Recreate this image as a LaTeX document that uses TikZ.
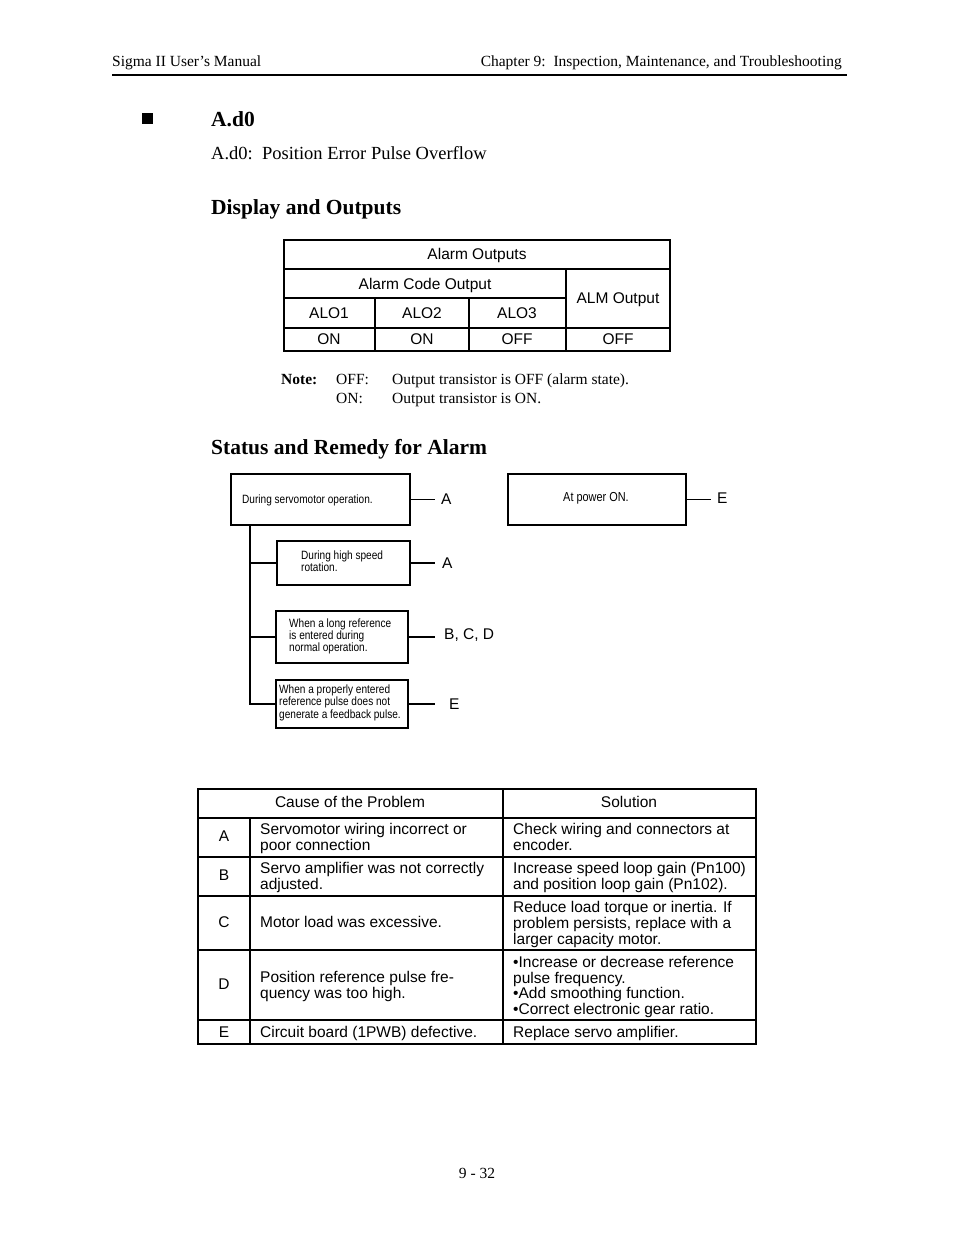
\documentclass[tikz,border=0pt]{standalone}
\usepackage{fontspec}
\setmainfont{Liberation Serif}
\setsansfont{Liberation Sans}
\newfontfamily\narrowsf[FakeStretch=0.84]{Liberation Sans}
\begin{document}
\begin{tikzpicture}[x=1pt,y=-1pt,
  serif/.style={font=\fontsize{15.5}{18}\selectfont, inner sep=0pt, anchor=base west},
  tc/.style={font=\sffamily\fontsize{15.5}{16}\selectfont, inner sep=0pt, anchor=base},
  tlft/.style={font=\sffamily\fontsize{15.5}{16}\selectfont, inner sep=0pt, anchor=base west, align=left},
  nt/.style={font=\narrowsf\fontsize{12}{12}\selectfont, inner sep=0pt, anchor=base west, align=left},
  lbl/.style={font=\sffamily\fontsize{15.5}{16}\selectfont, inner ysep=0pt, anchor=base west},
  sbox/.style={draw, line width=1.8pt, inner sep=0pt, anchor=north west},
  conn/.style={line width=1.5pt},
  trunk/.style={line width=2pt},
  tline/.style={line width=1.4pt}
]
\useasboundingbox (0,0) rectangle (954,1235);
\fill[white] (0,0) rectangle (954,1235);

% header
\node[serif] (h1) at (112,66) {Sigma II User’s Manual};
\node[serif, anchor=base east] (h2) at (842,66) {Chapter 9:\ \ Inspection, Maintenance, and Troubleshooting};
\draw[line width=2pt] (112,75) -- (847,75);

% section heading
\fill (142,113) rectangle (153,124);
\node[serif, font=\bfseries\fontsize{21.5}{24}\selectfont] (sec) at (211,126) {A.d0};
\node[serif, font=\fontsize{18.5}{22}\selectfont] (sub) at (211,159) {A.d0:\ \ Position Error Pulse Overflow};
\node[serif, font=\bfseries\fontsize{21.5}{24}\selectfont] (disp) at (211,214) {Display and Outputs};

% table 1
\draw[tline] (284,240) rectangle (670,351);
\draw[tline] (284,269) -- (670,269);
\draw[tline] (284,298) -- (566,298);
\draw[tline] (284,328) -- (670,328);
\draw[tline] (566,269) -- (566,351);
\draw[tline] (375,298) -- (375,351);
\draw[tline] (469,298) -- (469,351);
\node[tc] (ao) at (477,259.5) {Alarm Outputs};
\node[tc] (aco) at (425,289.5) {Alarm Code Output};
\node[tc] (almo) at (618,303.5) {ALM Output};
\node[tc] (alo1) at (329,318.5) {ALO1};
\node[tc] (alo2) at (422,318.5) {ALO2};
\node[tc] (alo3) at (517,318.5) {ALO3};
\node[tc] (v1) at (329,344.5) {ON};
\node[tc] (v2) at (422,344.5) {ON};
\node[tc] (v3) at (517,344.5) {OFF};
\node[tc] (v4) at (618,344.5) {OFF};

% note
\node[serif, font=\bfseries\fontsize{15.5}{18}\selectfont] (note) at (281,384) {Note:};
\node[serif] (n1a) at (336,384) {OFF:};
\node[serif] (n1b) at (392,384) {Output transistor is OFF (alarm state).};
\node[serif] (n2a) at (336,403) {ON:};
\node[serif] (n2b) at (392,403) {Output transistor is ON.};

\node[serif, font=\bfseries\fontsize{21.5}{24}\selectfont] (stat) at (211,454) {Status and Remedy for Alarm};

% diagram boxes
\node[sbox, minimum width=179pt, minimum height=51pt] (b1) at (230,473) {};
\node[sbox, minimum width=178pt, minimum height=51pt] (b5) at (507,473) {};
\node[sbox, minimum width=133pt, minimum height=44pt] (b2) at (276,540) {};
\node[sbox, minimum width=132pt, minimum height=52pt] (b3) at (275,610) {};
\node[sbox, minimum width=132pt, minimum height=48pt] (b4) at (275,679) {};

% (multi-line nodes: base = baseline of last line)
\node[nt] (t1) at (242,503) {During servomotor operation.};
\node[anchor=base, inner sep=0pt, font=\narrowsf\fontsize{13}{13}\selectfont] (t5) at (596,501) {At power ON.};
\node[nt] (t2) at (301,571) {During high speed\\rotation.};
\node[nt] (t3) at (289,651) {When a long reference\\is entered during\\normal operation.};
\node[nt, font=\narrowsf\fontsize{12}{12.5}\selectfont] (t4) at (279,718) {When a properly entered\\reference pulse does not\\generate a feedback pulse.};

% labels
\node[lbl, inner xsep=6pt] (la1) at (435,504.5) {A};
\node[lbl, inner xsep=6pt] (le1) at (711,503.5) {E};
\node[lbl, inner xsep=7pt] (la2) at (435,568.5) {A};
\node[lbl, inner xsep=9pt] (lbcd) at (435,639.5) {B, C, D};
\node[lbl, inner xsep=14pt] (le2) at (435,709.5) {E};

\draw[conn] (b1.east) -- (b1.east -| la1.west);
\draw[conn] (b5.east) -- (b5.east -| le1.west);
\draw[conn] (b2.east) -- (b2.east -| la2.west);
\draw[conn] (b3.east) -- (b3.east -| lbcd.west);
\draw[conn] (b4.east) -- (b4.east -| le2.west);

\coordinate (tr) at (250,524);
\draw[trunk] (tr) |- (b4.west);
\draw[conn] (tr |- b2.west) -- (b2.west);
\draw[conn] (tr |- b3.west) -- (b3.west);

% table 2
\draw[tline] (198,789) rectangle (756,1044);
\foreach \yy in {818,857,896,950,1020} \draw[tline] (198,\yy) -- (756,\yy);
\draw[tline] (503,789) -- (503,1044);
\draw[tline] (250,818) -- (250,1044);

\node[tc] (hc) at (350,807.5) {Cause of the Problem};
\node[tc] (hs) at (629,807.5) {Solution};

\node[tc] (ra) at (224,841.5) {A};
\node[tc] (rb) at (224,880.5) {B};
\node[tc] (rc) at (224,927.5) {C};
\node[tc] (rd) at (224,989.5) {D};
\node[tc] (re) at (224,1037.5) {E};

\node[tlft] (ca) at (260,850.5) {Servomotor wiring incorrect or\\poor connection};
\node[tlft] (cb) at (260,889.5) {Servo amplifier was not correctly\\adjusted.};
\node[tlft] (cc) at (260,927.5) {Motor load was excessive.};
\node[tlft] (cd) at (260,998.5) {Position reference pulse fre-\\quency was too high.};
\node[tlft] (ce) at (260,1037.5) {Circuit board (1PWB) defective.};

\node[tlft] (sa) at (513,850.5) {Check wiring and connectors at\\encoder.};
\node[tlft] (sb) at (513,889.5) {Increase speed loop gain (Pn100)\\and position loop gain (Pn102).};
\node[tlft] (sc) at (513,944.5) {Reduce load torque or inertia. If\\problem persists, replace with a\\larger capacity motor.};
\node[tlft, font=\sffamily\fontsize{15.5}{15.5}\selectfont] (sd) at (513,1014) {•Increase or decrease reference\\pulse frequency.\\•Add smoothing function.\\•Correct electronic gear ratio.};
\node[tlft] (se) at (513,1037.5) {Replace servo amplifier.};

% page number
\node[serif, anchor=base] (pg) at (477,1178) {9 - 32};
\end{tikzpicture}
\end{document}
